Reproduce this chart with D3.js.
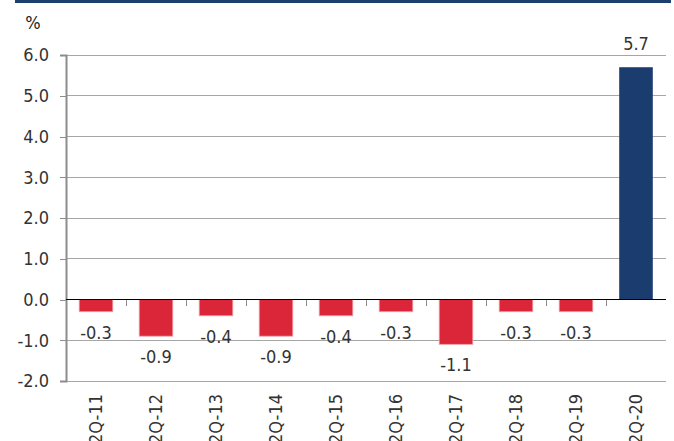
<!DOCTYPE html>
<html>
<head>
<meta charset="utf-8">
<script src="https://cdn.jsdelivr.net/npm/d3@7"></script>
<style>
  html, body { margin: 0; padding: 0; background: #fff; }
  svg { display: block; font-family: "DejaVu Sans Condensed", "DejaVu Sans", Verdana, sans-serif; }
</style>
</head>
<body>
<svg id="chart" width="674" height="441"></svg>
<script>
// Quarterly change, %
const categories = ["2Q-11", "2Q-12", "2Q-13", "2Q-14", "2Q-15", "2Q-16", "2Q-17", "2Q-18", "2Q-19", "2Q-20"];
const values = [-0.3, -0.9, -0.4, -0.9, -0.4, -0.3, -1.1, -0.3, -0.3, 5.7];
const yTicks = [-2, -1, 0, 1, 2, 3, 4, 5, 6];
const unitLabel = "%";

const FONT = '"DejaVu Sans Condensed", "DejaVu Sans", Verdana, sans-serif';
const FS = 18;
const fmt = d => d.toFixed(1);   // plain hyphen for negatives

const svg = d3.select("#chart");
const plotLeft = 66, plotRight = 666, plotTop = 55, plotBottom = 381;

const x = d3.scaleBand().domain(categories).range([plotLeft, plotRight]).paddingInner(0.44).paddingOuter(0.22);
const xBand = d3.scaleBand().domain(categories).range([plotLeft, plotRight]);
const y = d3.scaleLinear().domain([-2, 6]).range([plotBottom, plotTop]);

// header rule
svg.append("rect").attr("x", 15).attr("y", 0).attr("width", 656).attr("height", 3).attr("fill", "#1c3f6e");

// gridlines
svg.append("g").selectAll("line").data(yTicks.filter(d => d !== 0)).join("line")
  .attr("x1", plotLeft).attr("x2", plotRight)
  .attr("y1", d => y(d)).attr("y2", d => y(d))
  .attr("stroke", "#a6a6a6").attr("stroke-width", 1).attr("shape-rendering", "crispEdges");

// y axis
const yAxis = d3.axisLeft(y).tickValues(yTicks).tickFormat(fmt).tickSize(6).tickPadding(11);
const gy = svg.append("g").attr("transform", `translate(${plotLeft},0)`).call(yAxis);
gy.select(".domain").attr("stroke", "#8c8c8c").attr("stroke-width", 2);
gy.selectAll(".tick line").attr("stroke", "#8c8c8c").attr("shape-rendering", "crispEdges");
gy.selectAll(".tick text").attr("fill", "#333").attr("font-size", FS).attr("font-family", FONT);

// bars
svg.append("g").selectAll("rect").data(values).join("rect")
  .attr("x", (d, i) => x(categories[i]))
  .attr("width", x.bandwidth())
  .attr("y", d => y(Math.max(0, d)))
  .attr("height", d => Math.abs(y(d) - y(0)))
  .attr("fill", d => d < 0 ? "#da2638" : "#1b3c6e")
  .attr("stroke", d => d < 0 ? "#f2a0a8" : "none")
  .attr("stroke-width", 0.8);

// zero line with category ticks
svg.append("line").attr("x1", plotLeft).attr("x2", plotRight).attr("y1", y(0)).attr("y2", y(0))
  .attr("stroke", "#000").attr("stroke-width", 1).attr("shape-rendering", "crispEdges");
svg.append("g").selectAll("line").data(categories.slice(1)).join("line")
  .attr("x1", d => xBand(d)).attr("x2", d => xBand(d))
  .attr("y1", y(0)).attr("y2", y(0) + 6)
  .attr("stroke", "#8c8c8c").attr("shape-rendering", "crispEdges");

// value labels
svg.append("g").selectAll("text").data(values).join("text")
  .attr("x", (d, i) => x(categories[i]) + x.bandwidth() / 2)
  .attr("y", d => d < 0 ? y(d) + 27 : y(d) - 17)
  .attr("text-anchor", "middle")
  .attr("font-family", FONT).attr("font-size", FS).attr("fill", "#333")
  .text(fmt);

// category labels, rotated
svg.append("g").selectAll("text").data(categories).join("text")
  .attr("transform", d => `translate(${xBand(d) + xBand.bandwidth() / 2},${plotBottom + 13}) rotate(-90)`)
  .attr("dy", "0.35em")
  .attr("text-anchor", "end")
  .attr("font-family", FONT).attr("font-size", FS).attr("fill", "#333")
  .text(d => d);

// unit label
svg.append("text").attr("x", 33).attr("y", 29).attr("text-anchor", "middle")
  .attr("font-family", FONT).attr("font-size", FS).attr("fill", "#222").text(unitLabel);
</script>
</body>
</html>
